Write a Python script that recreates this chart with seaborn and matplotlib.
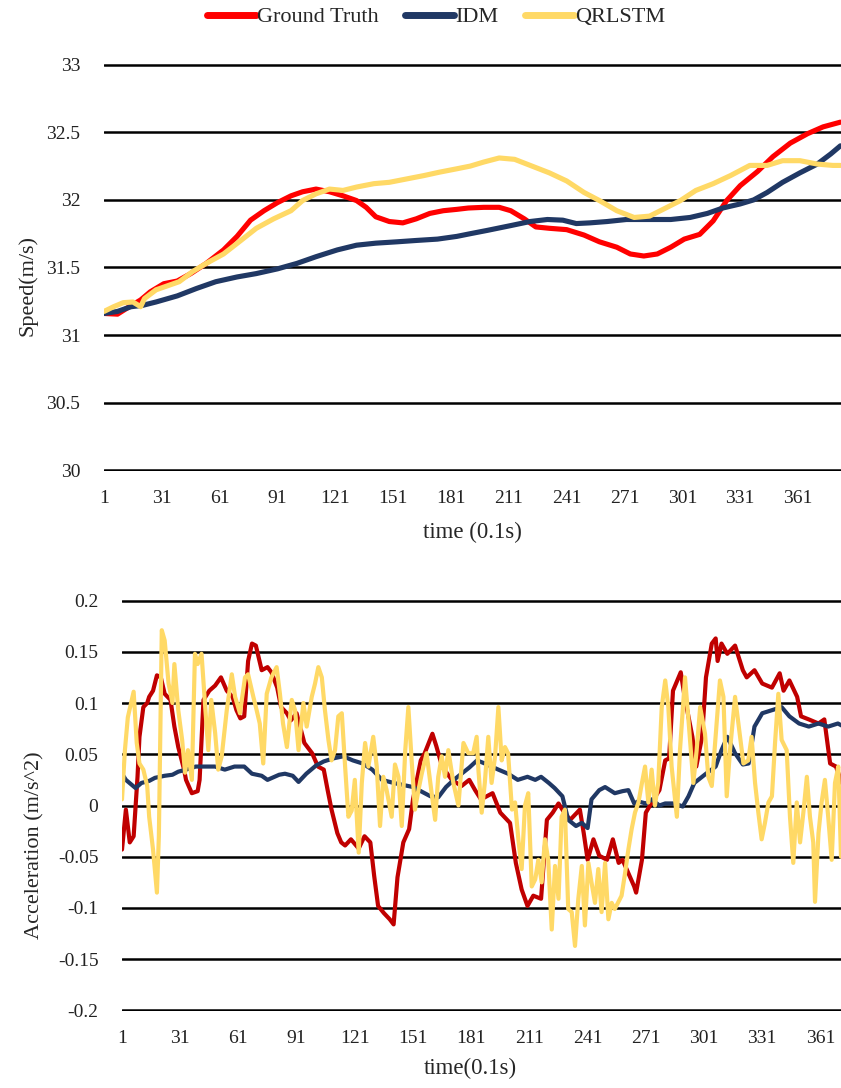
import numpy as np
import matplotlib
matplotlib.use("Agg")
import matplotlib.pyplot as plt
import seaborn as sns
from matplotlib.lines import Line2D

# ---- speed (m/s) ----
t_gt_v = [1, 8, 13, 20, 25, 32, 39, 46, 54, 63, 70, 77, 84, 91, 98, 104, 111, 118, 125, 132,
          137, 142, 149, 156, 163, 170, 177, 184, 190, 198, 206, 212, 219, 225, 232, 241, 250, 258, 267, 274,
          281, 288, 295, 302, 310, 317, 324, 331, 340, 348, 357, 366, 374, 383]
gt_v = [31.16, 31.155, 31.2, 31.26, 31.32, 31.38, 31.40, 31.455, 31.53, 31.63, 31.73, 31.85, 31.92, 31.98, 32.03, 32.06, 32.08, 32.06, 32.03, 31.995,
        31.945, 31.875, 31.84, 31.83, 31.86, 31.9, 31.92, 31.93, 31.94, 31.945, 31.945, 31.92, 31.86, 31.8, 31.79, 31.78, 31.74, 31.69, 31.65, 31.6,
        31.585, 31.6, 31.65, 31.71, 31.745, 31.845, 31.995, 32.105, 32.21, 32.32, 32.42, 32.49, 32.54, 32.575]

t_idm_v = [1, 8, 15, 21, 28, 39, 49, 59, 70, 80, 91, 101, 111, 122, 132, 142, 153, 163, 174, 184,
           191, 200, 212, 222, 231, 239, 246, 253, 262, 272, 284, 295, 305, 314, 322, 331, 338, 345, 353, 362,
           371, 378, 383]
idm_v = [31.16, 31.175, 31.21, 31.22, 31.245, 31.29, 31.345, 31.395, 31.43, 31.455, 31.49, 31.53, 31.58, 31.63, 31.665, 31.68, 31.69, 31.70, 31.71, 31.73,
         31.75, 31.775, 31.81, 31.84, 31.855, 31.85, 31.825, 31.83, 31.84, 31.855, 31.855, 31.855, 31.87, 31.9, 31.94, 31.97, 32.0, 32.055, 32.13, 32.2,
         32.265, 32.34, 32.4]

t_qr_v = [1, 6, 11, 16, 20, 22, 28, 35, 40, 47, 54, 63, 72, 80, 89, 98, 104, 111, 118, 125,
          132, 141, 149, 158, 167, 175, 184, 191, 198, 206, 214, 223, 232, 241, 250, 258, 267, 276, 284, 291,
          300, 308, 317, 326, 336, 345, 353, 362, 371, 379, 383]
qr_v = [31.175, 31.21, 31.24, 31.245, 31.21, 31.27, 31.335, 31.37, 31.395, 31.47, 31.53, 31.6, 31.7, 31.79, 31.86, 31.92, 31.995, 32.045, 32.08, 32.07,
        32.095, 32.12, 32.13, 32.155, 32.18, 32.205, 32.23, 32.25, 32.28, 32.31, 32.3, 32.25, 32.2, 32.14, 32.055, 31.995, 31.92, 31.87, 31.88, 31.93,
        31.995, 32.07, 32.12, 32.18, 32.255, 32.255, 32.29, 32.29, 32.265, 32.255, 32.255]

# ---- acceleration (m/s^2) ----
t_gt_a = [1, 3, 5, 7, 9, 10, 12, 14, 15, 17, 19, 21, 23, 26, 28, 30, 33, 34, 37, 40,
          41, 43, 46, 49, 52, 55, 58, 60, 62, 64, 66, 68, 70, 73, 76, 78, 81, 83, 86, 88,
          91, 95, 99, 102, 105, 107, 109, 112, 114, 116, 119, 123, 126, 129, 131, 133, 136, 139, 141, 143,
          146, 149, 151, 155, 157, 161, 163, 166, 171, 176, 180, 183, 186, 192, 196, 201, 204, 207, 210, 213,
          217, 220, 223, 226, 229, 232, 237, 239, 241, 244, 247, 251, 254, 257, 259, 262, 265, 266, 269, 271,
          275, 278, 281, 283, 285, 289, 291, 295, 297, 300, 302, 305, 307, 308, 310, 313, 317, 321, 323, 327,
          331, 336, 340, 342, 345, 349, 351, 355, 360, 363, 366, 369, 372]
gt_a = [-0.043, -0.004, -0.036, -0.03, 0.028, 0.067, 0.096, 0.1, 0.106, 0.112, 0.127, 0.125, 0.109, 0.103, 0.077, 0.057, 0.035, 0.025, 0.012, 0.014,
        0.025, 0.103, 0.112, 0.117, 0.125, 0.112, 0.106, 0.093, 0.085, 0.087, 0.141, 0.158, 0.156, 0.132, 0.135, 0.130, 0.115, 0.096, 0.090, 0.083,
        0.09, 0.061, 0.051, 0.038, 0.035, 0.015, -0.004, -0.027, -0.036, -0.039, -0.033, -0.042, -0.03, -0.036, -0.069, -0.098, -0.105, -0.111, -0.116, -0.07,
        -0.036, -0.023, 0.006, 0.044, 0.051, 0.07, 0.058, 0.038, 0.025, 0.019, 0.025, 0.015, 0.006, 0.012, -0.007, -0.017, -0.056, -0.082, -0.098, -0.088,
        -0.091, -0.014, -0.007, 0.002, -0.007, -0.014, -0.004, -0.027, -0.053, -0.033, -0.049, -0.053, -0.033, -0.056, -0.053, -0.066, -0.079, -0.085, -0.053, -0.007,
        0.006, 0.015, 0.044, 0.046, 0.112, 0.130, 0.106, 0.067, 0.038, 0.067, 0.125, 0.158, 0.163, 0.141, 0.158, 0.148, 0.156, 0.132, 0.125, 0.132,
        0.119, 0.115, 0.129, 0.112, 0.122, 0.106, 0.087, 0.084, 0.080, 0.084, 0.041, 0.038, 0.022]

t_idm_a = [1, 3, 8, 11, 15, 18, 23, 27, 30, 34, 39, 44, 49, 54, 59, 64, 68, 73, 76, 82,
           85, 89, 92, 96, 101, 105, 110, 115, 120, 125, 130, 135, 141, 146, 151, 156, 160, 164, 168, 172,
           176, 180, 184, 188, 195, 200, 205, 210, 214, 217, 221, 224, 228, 231, 235, 238, 241, 243, 247, 250,
           255, 259, 262, 265, 267, 271, 274, 278, 281, 286, 290, 293, 296, 302, 307, 310, 313, 317, 321, 324,
           327, 331, 336, 341, 345, 350, 355, 360, 365, 370, 372]
idm_a = [0.031, 0.025, 0.017, 0.022, 0.024, 0.027, 0.029, 0.030, 0.033, 0.035, 0.038, 0.038, 0.038, 0.035, 0.038, 0.038, 0.031, 0.029, 0.025, 0.030,
         0.031, 0.029, 0.023, 0.031, 0.039, 0.043, 0.046, 0.048, 0.044, 0.041, 0.035, 0.025, 0.022, 0.020, 0.018, 0.013, 0.009, 0.008, 0.018, 0.025,
         0.031, 0.037, 0.044, 0.041, 0.035, 0.031, 0.025, 0.028, 0.025, 0.028, 0.022, 0.017, 0.009, -0.014, -0.02, -0.017, -0.022, 0.006, 0.015, 0.018,
         0.012, 0.014, 0.015, 0.002, 0.004, 0.002, 0.006, 0.0, 0.002, 0.002, -0.001, 0.009, 0.022, 0.031, 0.038, 0.054, 0.067, 0.051, 0.04, 0.041,
         0.077, 0.09, 0.093, 0.096, 0.087, 0.080, 0.077, 0.080, 0.077, 0.080, 0.078]

t_qr_a = [1, 2.5, 4, 7, 8.6, 10, 12, 14, 15, 17, 19, 20, 21.5, 23, 25, 27, 28, 30, 32, 33.5,
          35, 37, 38.6, 40, 42, 44, 45.5, 47, 49, 50.6, 52.4, 55, 57.6, 59.3, 61.8, 64.4, 66, 68.7, 70.4, 72,
          73.8, 75.6, 78, 80.7, 82.4, 84, 86, 88.5, 90.2, 92, 94.5, 96.2, 98.8, 100.5, 102.2, 104, 105.6, 107.4, 109, 110.8,
          112.5, 114.3, 116, 117.7, 119.4, 121, 123, 124.6, 126.3, 128, 130.5, 132.3, 134, 135.7, 137.4, 140, 141.7, 143.5, 145.2, 147,
          148.6, 150.3, 152, 153.8, 155.5, 158, 160.6, 162.4, 164, 165.8, 167.5, 169.2, 171.8, 174.4, 177, 179.5, 182, 183.8, 184.7, 186.4,
          188, 189.8, 191.5, 193.3, 195, 196.7, 198.4, 200, 202, 203.6, 205.3, 207, 208.7, 210.4, 212.2, 214, 215.6, 217.3, 219, 220.7,
          222.5, 224.2, 226, 227.6, 229.3, 231, 232.8, 234.5, 236.2, 238, 239.6, 241.4, 243, 244.8, 246.5, 248.2, 250, 251.7, 253.4, 255,
          258.5, 260.3, 262, 263.7, 265.4, 267.2, 269, 270.6, 272.3, 274, 275.7, 277.4, 279.2, 281, 282.6, 284.3, 287, 288.6, 291.2, 293,
          295.5, 297.2, 299, 301.5, 303.2, 305, 306.7, 309.2, 311, 312.7, 314.4, 317, 318.7, 321.3, 323.8, 325.5, 327.3, 329, 330.7, 332.4,
          334.2, 336, 337.6, 339.3, 341, 343.6, 345.3, 347, 348.8, 350.5, 352.2, 354, 355.6, 357.3, 358.2, 360, 361.6, 363.3, 365, 366.8,
          368.5, 370.2, 371.6]
qr_a = [0.006, 0.054, 0.086, 0.111, 0.061, 0.041, 0.035, 0.019, -0.011, -0.043, -0.085, -0.03, 0.171, 0.161, 0.119, 0.1, 0.138, 0.093, 0.064, 0.032,
        0.054, 0.025, 0.148, 0.138, 0.148, 0.093, 0.054, 0.103, 0.071, 0.035, 0.048, 0.093, 0.128, 0.106, 0.09, 0.125, 0.128, 0.106, 0.093, 0.08,
        0.041, 0.109, 0.125, 0.135, 0.109, 0.08, 0.057, 0.103, 0.093, 0.054, 0.1, 0.077, 0.106, 0.119, 0.135, 0.125, 0.093, 0.064, 0.044, 0.054,
        0.087, 0.09, 0.038, -0.011, -0.005, 0.025, -0.046, 0.022, 0.061, 0.038, 0.067, 0.038, -0.02, 0.028, 0.015, -0.011, 0.04, 0.028, -0.02, 0.054,
        0.096, 0.044, -0.004, 0.015, 0.031, 0.051, 0.012, -0.014, 0.028, 0.048, 0.028, 0.054, 0.022, 0.0, 0.061, 0.051, 0.051, 0.067, 0.035, -0.007,
        0.022, 0.067, 0.022, 0.048, 0.096, 0.044, 0.057, 0.051, -0.004, 0.003, -0.033, -0.062, 0.0, 0.012, -0.079, -0.072, -0.053, -0.075, -0.033, -0.053,
        -0.121, -0.059, -0.091, -0.011, -0.004, -0.101, -0.104, -0.137, -0.091, -0.059, -0.117, -0.056, -0.075, -0.095, -0.062, -0.104, -0.056, -0.111, -0.095, -0.101,
        -0.088, -0.066, -0.043, -0.023, -0.007, 0.003, 0.022, 0.038, 0.003, 0.035, 0.0, 0.022, 0.096, 0.122, 0.096, 0.038, -0.011, 0.054, 0.125, 0.083,
        0.022, 0.054, 0.096, 0.07, 0.028, 0.019, 0.061, 0.122, 0.106, 0.009, 0.054, 0.106, 0.08, 0.041, 0.044, 0.067, 0.022, -0.007, -0.033, -0.017,
        0.003, 0.009, 0.061, 0.109, 0.064, 0.054, -0.011, -0.056, 0.003, -0.036, -0.007, 0.028, -0.011, -0.036, -0.094, -0.027, 0.003, 0.025, -0.011, -0.053,
        0.022, 0.038, -0.05]

x_ticks = [1, 31, 61, 91, 121, 151, 181, 211, 241, 271, 301, 331, 361]
v_ticks = [30, 30.5, 31, 31.5, 32, 32.5, 33]
v_labels = ["30", "30.5", "31", "31.5", "32", "32.5", "33"]
a_ticks = [-0.2, -0.15, -0.1, -0.05, 0, 0.05, 0.1, 0.15, 0.2]
a_labels = ["-0.2", "-0.15", "-0.1", "-0.05", "0", "0.05", "0.1", "0.15", "0.2"]
names = ["Ground Truth", "IDM", "QRLSTM"]

RED, DARKRED, NAVY, GOLD = "#FF0000", "#C00000", "#203864", "#FFD966"

sns.set_style("white")
plt.rcParams["font.family"] = ["Liberation Serif", "DejaVu Serif"]
plt.rcParams["axes.unicode_minus"] = False

fig = plt.figure(figsize=(8.41, 10.88), dpi=100)
ax1 = fig.add_axes([104/841, 1 - 471/1088, 737/841, 407/1088])
ax2 = fig.add_axes([122/841, 1 - 1011/1088, 719/841, 411/1088])

kw = dict(estimator=None, sort=False, legend=False, solid_capstyle="round", solid_joinstyle="round")
sns.lineplot(x=t_gt_v, y=gt_v, ax=ax1, color=RED, linewidth=3.7, **kw)
sns.lineplot(x=t_idm_v, y=idm_v, ax=ax1, color=NAVY, linewidth=3.7, **kw)
sns.lineplot(x=t_qr_v, y=qr_v, ax=ax1, color=GOLD, linewidth=3.7, **kw)

sns.lineplot(x=t_gt_a, y=gt_a, ax=ax2, color=DARKRED, linewidth=3.0, **kw)
sns.lineplot(x=t_idm_a, y=idm_a, ax=ax2, color=NAVY, linewidth=3.0, **kw)
sns.lineplot(x=t_qr_a, y=qr_a, ax=ax2, color=GOLD, linewidth=3.0, **kw)

ax1.set_xlim(1, 383.3)
ax1.set_ylim(29.995, 33.005)
ax2.set_xlim(1, 371.6)
ax2.set_ylim(-0.2005, 0.2005)

for ax, yt, yl in [(ax1, v_ticks, v_labels), (ax2, a_ticks, a_labels)]:
    ax.set_xticks(x_ticks)
    ax.set_xticklabels([str(x) for x in x_ticks])
    ax.set_yticks(yt)
    ax.set_yticklabels(yl)
    ax.yaxis.grid(True, color="black", linewidth=1.8)
    ax.xaxis.grid(False)
    ax.set_axisbelow(True)
    for s in ax.spines.values():
        s.set_visible(False)
    ax.tick_params(axis="both", length=0, labelsize=14, colors="#222222")
    ax.tick_params(axis="y", pad=17)
    ax.tick_params(axis="x", pad=14)

ax1.set_xlabel("time (0.1s)", fontsize=16.5, va="center")
ax1.xaxis.set_label_coords(0.5, -0.15)
ax1.set_ylabel("Speed(m/s)", fontsize=16, va="center")
ax1.yaxis.set_label_coords(-0.103, 0.457)

ax2.set_xlabel("time(0.1s)", fontsize=16.5, va="center")
ax2.xaxis.set_label_coords(0.484, -0.139)
ax2.set_ylabel("Acceleration (m/s^2)", fontsize=16, va="center")
ax2.yaxis.set_label_coords(-0.121, 0.404)

handles = [Line2D([], [], color=c, linewidth=5, solid_capstyle="round") for c in [RED, NAVY, GOLD]]
fig.legend(handles, names, loc="center", bbox_to_anchor=(436/841, 1 - 17/1088), ncol=3,
           frameon=False, fontsize=16, handlelength=2.2, handletextpad=0.05, columnspacing=1.2)

fig.savefig("out.png", dpi=100)
